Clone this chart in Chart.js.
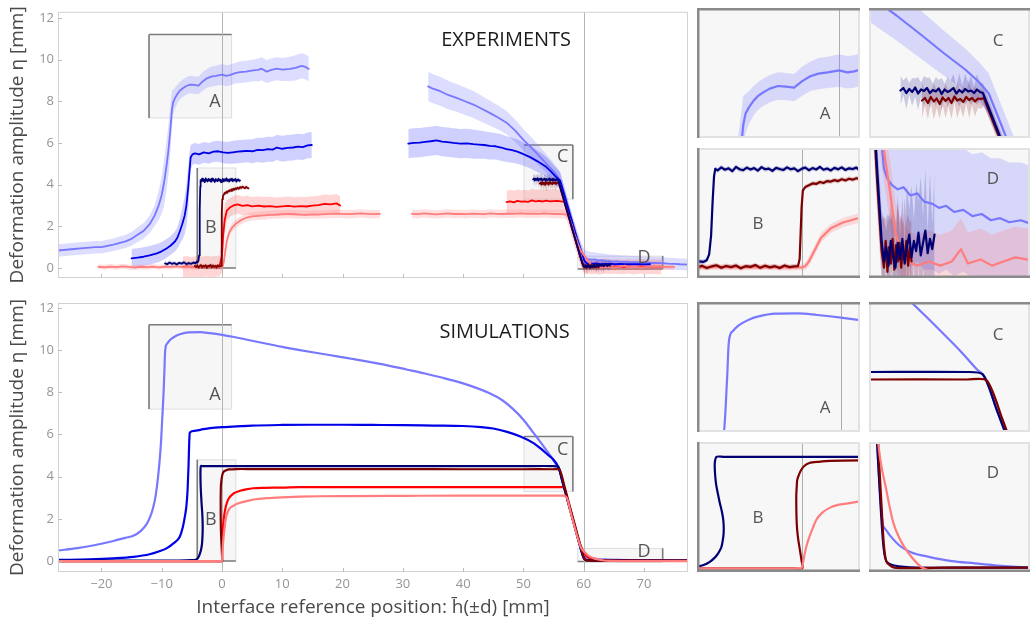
<!DOCTYPE html>
<html><head><meta charset="utf-8">
<script src="https://cdn.jsdelivr.net/npm/chart.js@4.4.1/dist/chart.umd.min.js"></script>
<style>
html,body{margin:0;padding:0;background:#fff;width:1030px;height:621px;overflow:hidden;position:relative}
canvas{position:absolute}
</style></head><body>
<script>
const FONT = '"Open Sans", "DejaVu Sans", sans-serif';

// ---------------- tick values ----------------
const xTickValues = [-20,-10,0,10,20,30,40,50,60,70];
const yTickValues = [0,2,4,6,8,10,12];

// ---------------- EXPERIMENTS (x in mm, y in mm, e = band half-width) ----------------
const expLB1X = [-27.2,-25,-23,-21,-20,-18,-16,-15,-14,-13,-12,-11.2,-10.5,-10,-9.6,-9.2,-8.9,-8.6,-8.3,-8.1,-7.8,-7.4,-7,-6.5,-6,-5.3,-4.6,-3.9,-3.2,-2.5,-1.8,-1,0,0.7,1.3,2.2,3,4,5.2,6,6.6,7.4,8.2,9.1,10,11.3,12.2,13.2,13.8,14.4];
const expLB1Y = [0.84,0.9,0.95,1.0,1.0,1.12,1.28,1.4,1.6,1.78,2.1,2.5,3.0,3.5,4.1,4.9,5.6,6.5,7.6,7.95,8.15,8.35,8.5,8.62,8.72,8.8,8.78,8.75,8.95,9.1,9.18,9.22,9.28,9.22,9.25,9.35,9.4,9.42,9.48,9.5,9.56,9.42,9.5,9.56,9.52,9.55,9.6,9.7,9.65,9.55];
const expLB1E = [0.3,0.3,0.3,0.3,0.3,0.3,0.32,0.33,0.35,0.38,0.42,0.5,0.7,0.9,1.1,1.2,1.2,1.1,0.9,0.6,0.5,0.45,0.42,0.42,0.42,0.42,0.42,0.42,0.45,0.45,0.48,0.48,0.5,0.5,0.5,0.5,0.52,0.52,0.52,0.55,0.55,0.55,0.55,0.55,0.55,0.58,0.6,0.6,0.6,0.6];
const expLB2X = [34.2,35,36.2,37.5,38.9,40.3,41.7,43,44.4,45.8,47.2,48.6,50,51.4,52.7,53.8,54.9,55.6,56.1,56.8,57.5,58.2,58.9,59.6,60.1,60.4,60.8,61.3,61.8,62.4,63,63.6,64.3,64.9,65.5,66.2,67,67.8,68.6,69.4,70.2,71,72,73,74,75,76,77.5];
const expLB2Y = [8.71,8.6,8.48,8.3,8.16,8.0,7.84,7.65,7.44,7.22,6.97,6.6,6.15,5.75,5.35,5.0,4.67,4.42,4.19,3.5,2.8,2.1,1.4,0.8,0.5,0.45,0.42,0.4,0.41,0.37,0.38,0.34,0.33,0.31,0.32,0.29,0.3,0.27,0.28,0.25,0.26,0.24,0.25,0.23,0.21,0.2,0.18,0.16];
const expLB2E = [0.7,0.7,0.7,0.68,0.67,0.66,0.65,0.63,0.6,0.58,0.56,0.54,0.52,0.5,0.48,0.45,0.42,0.4,0.4,0.4,0.4,0.4,0.4,0.4,0.4,0.4,0.38,0.36,0.35,0.35,0.33,0.33,0.32,0.32,0.31,0.31,0.3,0.3,0.3,0.3,0.29,0.29,0.28,0.28,0.28,0.28,0.28,0.28];

const expB1X = [-15,-14,-13,-12,-10.8,-10,-9.2,-8.5,-7.8,-7.4,-7,-6.6,-6.2,-5.9,-5.6,-5.4,-5.2,-4.9,-4.5,-3.8,-3,-2.2,-1.4,-0.6,0.2,1,1.8,2.6,3.4,4.1,5,5.8,6.8,7.6,8.4,9.1,10,10.9,11.8,12.6,13.4,14.2,14.9];
const expB1Y = [0.46,0.5,0.54,0.6,0.7,0.8,0.94,1.08,1.27,1.45,1.75,2.1,2.5,3.0,3.87,4.6,5.3,5.45,5.5,5.45,5.55,5.5,5.58,5.6,5.55,5.52,5.55,5.58,5.6,5.62,5.6,5.66,5.65,5.7,5.68,5.78,5.72,5.76,5.78,5.82,5.8,5.88,5.9];
const expB1E = [0.45,0.45,0.45,0.45,0.45,0.45,0.45,0.45,0.48,0.5,0.6,0.75,0.9,1.0,1.0,0.9,0.6,0.5,0.5,0.5,0.5,0.5,0.5,0.5,0.52,0.52,0.55,0.55,0.55,0.55,0.58,0.58,0.6,0.6,0.6,0.6,0.62,0.62,0.62,0.62,0.62,0.62,0.62];
const expB2X = [30.9,31.8,32.8,33.7,34.6,35.6,36.5,37.4,38.4,39.5,40.6,41.7,42.6,43.5,44.4,45.4,46.3,47.2,48.1,49,50,51.1,52.2,53,53.8,54.5,55.2,55.7,56.1,56.8,57.5,58.2,58.9,59.6,60.1,60.5,61.2,62,62.8,63.6,64.4,65.2,66,67,68,69,70,71];
const expB2Y = [5.97,6.0,6.01,6.05,6.08,6.12,6.06,6.04,6.0,5.97,5.98,5.94,5.92,5.9,5.86,5.84,5.78,5.7,5.65,5.58,5.46,5.32,5.14,5.0,4.84,4.65,4.43,4.3,4.19,3.5,2.8,2.1,1.4,0.8,0.35,0.22,0.2,0.22,0.19,0.2,0.21,0.18,0.2,0.19,0.18,0.19,0.17,0.18];
const expB2E = [0.7,0.7,0.7,0.7,0.7,0.7,0.7,0.7,0.7,0.7,0.7,0.7,0.68,0.66,0.65,0.64,0.63,0.62,0.6,0.58,0.56,0.54,0.52,0.5,0.48,0.46,0.44,0.42,0.4,0.35,0.3,0.3,0.3,0.3,0.25,0.18,0.15,0.15,0.15,0.15,0.15,0.15,0.15,0.15,0.15,0.15,0.15,0.15];

const expNV1X = [-9.45,-9.1,-8.7,-8.3,-7.9,-7.5,-7.1,-6.7,-6.3,-5.9,-5.5,-5.1,-4.7,-4.4,-4.2,-4.05,-3.9,-3.8,-3.72,-3.66,-3.6,-3.55,-3.45,-3.3,-3.15,-3.0,-2.85,-2.7,-2.55,-2.4,-2.25,-2.1,-1.95,-1.8,-1.65,-1.5,-1.35,-1.2,-1.05,-0.9,-0.75,-0.6,-0.45,-0.3,-0.15,0,0.15,0.3,0.45,0.6,0.75,0.9,1.05,1.2,1.35,1.5,1.65,1.8,1.95,2.1,2.25,2.4,2.55,2.7,2.85,3.0];
const expNV1Y = [0.22,0.18,0.26,0.2,0.24,0.17,0.25,0.21,0.27,0.19,0.23,0.2,0.26,0.22,0.3,0.28,0.35,0.6,1.4,2.8,3.9,4.22,4.15,4.28,4.18,4.24,4.12,4.3,4.2,4.16,4.27,4.19,4.25,4.14,4.29,4.2,4.23,4.13,4.26,4.21,4.17,4.28,4.2,4.24,4.12,4.22,4.27,4.16,4.25,4.19,4.3,4.18,4.23,4.15,4.26,4.2,4.28,4.17,4.24,4.21,4.27,4.14,4.22,4.25,4.18,4.2];
const expNV1E = 0.1;
const expNV2X = [51.6,51.75,51.9,52.05,52.2,52.35,52.5,52.65,52.8,52.95,53.1,53.25,53.4,53.55,53.7,53.85,54,54.15,54.3,54.45,54.6,54.75,54.9,55.05,55.2,55.35,55.5,55.65,55.8,56.5,57.3,58.1,58.9,59.5,59.9,60.1,60.3,60.5,60.7,60.9,61.1,61.3,61.5,61.7,61.9,62.1,62.3,62.5,62.7,62.9,63.1,63.3,63.5,63.7,63.9,64.1,64.3,64.5];
const expNV2Y = [4.25,4.3,4.2,4.28,4.22,4.31,4.19,4.27,4.24,4.3,4.2,4.26,4.23,4.29,4.18,4.27,4.22,4.25,4.3,4.19,4.26,4.21,4.28,4.23,4.25,4.2,4.27,4.22,4.2,3.5,2.7,1.9,1.1,0.5,0.15,0.05,0.12,0.03,0.15,0.08,0.02,0.14,0.06,0.16,0.04,0.12,0.18,0.07,0.15,0.1,0.19,0.08,0.14,0.2,0.09,0.16,0.11,0.18];
const expNV2E = [0.3,0.15,0.32,0.12,0.28,0.18,0.33,0.14,0.3,0.2,0.31,0.13,0.29,0.17,0.32,0.12,0.3,0.19,0.28,0.15,0.33,0.14,0.3,0.18,0.29,0.13,0.31,0.16,0.2,0.15,0.15,0.15,0.15,0.15,0.15,0.2,0.08,0.25,0.1,0.22,0.06,0.24,0.1,0.2,0.08,0.3,0.12,0.35,0.1,0.33,0.15,0.38,0.12,0.3,0.1,0.32,0.12,0.3];

const expDR1X = [-4.5,-4.3,-4.1,-3.9,-3.7,-3.5,-3.3,-3.1,-2.9,-2.7,-2.5,-2.3,-2.1,-1.9,-1.7,-1.5,-1.3,-1.1,-0.9,-0.7,-0.5,-0.3,-0.15,-0.08,-0.04,0,0.05,0.15,0.3,0.45,0.6,0.75,0.9,1.05,1.2,1.35,1.5,1.65,1.8,1.95,2.1,2.25,2.4,2.6,2.8,3.0,3.2,3.4,3.6,3.8,4.0,4.2,4.4];
const expDR1Y = [0.1,0.04,0.12,0.02,0.09,0.14,0.03,0.11,0.06,0.13,0.01,0.1,0.07,0.15,0.03,0.12,0.05,0.1,0.02,0.13,0.06,0.09,0.1,0.4,1.5,2.6,3.3,3.45,3.52,3.6,3.58,3.66,3.62,3.7,3.68,3.74,3.7,3.78,3.73,3.8,3.76,3.82,3.79,3.85,3.8,3.88,3.84,3.9,3.86,3.83,3.89,3.85,3.82];
const expDR1E = 0.1;
const expDR2X = [52.7,52.85,53,53.15,53.3,53.45,53.6,53.75,53.9,54.05,54.2,54.35,54.5,54.65,54.8,54.95,55.1,55.25,55.4,55.55,55.7,55.85,56.5,57.3,58.1,58.9,59.5,59.9,60.1,60.25,60.4,60.55,60.7,60.85,61,61.15,61.3,61.45,61.6,61.75,61.9,62.05,62.2,62.35,62.5];
const expDR2Y = [4.05,4.1,4.0,4.12,4.03,4.09,3.98,4.11,4.04,4.1,4.0,4.13,4.05,4.08,4.02,4.12,4.06,4.1,4.03,4.09,4.08,4.1,3.45,2.65,1.85,1.05,0.45,0.1,0.02,0.15,0.0,0.12,0.04,0.16,0.01,0.13,0.05,0.14,0.02,0.11,0.06,0.15,0.03,0.12,0.05];
const expDR2E = [0.35,0.15,0.33,0.12,0.36,0.18,0.3,0.14,0.34,0.16,0.32,0.12,0.35,0.17,0.31,0.13,0.36,0.15,0.3,0.18,0.2,0.15,0.15,0.15,0.15,0.15,0.15,0.15,0.25,0.1,0.28,0.12,0.3,0.08,0.27,0.11,0.29,0.1,0.26,0.12,0.3,0.09,0.25,0.12,0.2];

const expR1X = [-6.5,-5.8,-5,-4.2,-3.4,-2.6,-1.8,-1,-0.4,0,0.2,0.45,0.8,1.3,1.9,2.6,3.4,4.2,5,6,7,8,9,10,11,12,13,14,15,16,17,18,19,19.6];
const expR1Y = [0.05,0.08,0.03,0.07,0.04,0.09,0.05,0.08,0.1,0.6,1.6,2.3,2.75,2.9,3.0,3.05,2.98,3.02,2.96,2.99,2.95,2.97,2.93,2.96,2.98,2.94,2.97,2.95,2.99,3.02,3.08,3.05,3.1,3.0];
const expR1E = [0.5,0.5,0.5,0.5,0.5,0.5,0.5,0.5,0.5,0.8,0.9,0.7,0.5,0.45,0.45,0.45,0.45,0.45,0.45,0.45,0.45,0.45,0.45,0.45,0.45,0.45,0.45,0.45,0.45,0.45,0.45,0.45,0.45,0.45];
const expR2X = [47.2,47.8,48.4,49,49.6,50.2,50.8,51.4,52,52.6,53.2,53.8,54.4,55,55.6,56.2,56.8,57.4,58.1,58.8,59.5,59.9,60.3,60.8,61.3,61.9,62.5,63.1,63.7,64.4,65,65.8,66.6,67.4,68.2,69,69.8,70.6,71.4,72.2,72.9];
const expR2Y = [3.16,3.2,3.15,3.22,3.18,3.2,3.17,3.24,3.2,3.22,3.19,3.23,3.2,3.21,3.22,3.2,3.18,2.6,1.9,1.2,0.5,0.15,0.05,0.08,0.04,0.07,0.03,0.06,0.09,0.05,0.07,0.06,0.05,0.08,0.04,0.06,0.07,0.05,0.06,0.05,0.06];
const expR2E = [0.55,0.55,0.55,0.55,0.55,0.55,0.55,0.55,0.55,0.55,0.55,0.55,0.55,0.55,0.55,0.55,0.55,0.5,0.5,0.45,0.4,0.35,0.35,0.35,0.35,0.35,0.35,0.35,0.35,0.35,0.35,0.35,0.35,0.35,0.35,0.35,0.35,0.35,0.35,0.35,0.35];

const expLR1X = [-20.5,-19.5,-18.5,-17.5,-16.5,-15.5,-14.5,-13.5,-12.5,-11.5,-10.5,-9.5,-8.5,-7.5,-6.5,-5.5,-4.5,-3.5,-2.5,-1.5,-0.5,0,0.15,0.3,0.5,0.8,1.2,1.7,2.4,3.2,4.1,5,6,7,8,9,10,11,12,13,14,15,16,17,18,19,20,21,22,23,24,25,26.2];
const expLR1Y = [0.06,0.03,0.07,0.04,0.08,0.05,0.02,0.06,0.04,0.07,0.03,0.06,0.05,0.08,0.04,0.06,0.03,0.07,0.05,0.06,0.04,0.05,0.1,0.3,0.7,1.3,1.7,1.95,2.15,2.3,2.42,2.48,2.5,2.52,2.55,2.56,2.58,2.6,2.58,2.56,2.55,2.57,2.56,2.58,2.6,2.61,2.6,2.58,2.6,2.62,2.6,2.58,2.6];
const expLR1E = [0.12,0.12,0.12,0.12,0.12,0.12,0.12,0.12,0.12,0.12,0.12,0.12,0.12,0.12,0.12,0.12,0.12,0.12,0.12,0.12,0.12,0.12,0.15,0.2,0.2,0.2,0.2,0.2,0.2,0.2,0.2,0.2,0.2,0.2,0.2,0.2,0.2,0.2,0.2,0.2,0.2,0.2,0.2,0.2,0.2,0.2,0.2,0.2,0.2,0.2,0.2,0.2,0.2];
const expLR2X = [31.5,32.5,33.5,34.5,35.5,36.5,37.5,38.5,39.5,40.5,41.5,42.5,43.5,44.5,45.5,46.5,47.5,48.5,49.5,50.5,51.5,52.5,53.5,54.5,55.5,56.5,57.4,58,58.5,59,59.4,59.8,60.2,60.6,61.1,61.6,62.3,63,64,65,66,66.8,67.4,68.5,69.5,70.5,71.5,72.5,73.5,75];
const expLR2Y = [2.6,2.58,2.62,2.6,2.57,2.6,2.62,2.59,2.6,2.58,2.61,2.6,2.58,2.62,2.6,2.59,2.61,2.6,2.62,2.6,2.61,2.6,2.62,2.6,2.59,2.58,2.55,2.1,1.6,1.2,0.9,0.7,0.55,0.4,0.19,0.1,0.045,0.03,0.05,0.03,0.05,0.11,0.04,0.06,0.03,0.05,0.07,0.06,0.05,0.05];
const expLR2E = [0.2,0.2,0.2,0.2,0.2,0.2,0.2,0.2,0.2,0.2,0.2,0.2,0.2,0.2,0.2,0.2,0.2,0.2,0.2,0.2,0.2,0.2,0.2,0.2,0.2,0.2,0.2,0.2,0.2,0.2,0.15,0.15,0.15,0.15,0.15,0.15,0.15,0.15,0.15,0.15,0.15,0.15,0.15,0.15,0.15,0.15,0.15,0.15,0.15,0.15];

// ---------------- SIMULATIONS ----------------
const simLBX = [-27.2,-24,-21,-18,-16,-14.7,-13.5,-12.5,-11.9,-11.4,-11,-10.6,-10.3,-10.1,-9.9,-9.7,-9.55,-9.45,-9.3,-9.1,-8.7,-8.3,-7.6,-7,-5.5,-3.6,-2,0,1.8,4,7.4,10,12.9,16,19.6,21.2,25.1,28,30.6,33.5,36.1,40,44.4,46.5,48.3,50,51.6,52.8,53.8,54.7,55.5,55.9,56.5,57.5,58.5,59.5,60,60.2,60.6,61.5,62.5,64,66,68,70,73,77.5];
const simLBY = [0.5,0.61,0.76,0.95,1.1,1.2,1.42,1.75,2.1,2.55,3.1,4.0,4.9,5.7,6.8,7.9,9.0,9.85,10.2,10.3,10.45,10.55,10.68,10.75,10.84,10.85,10.8,10.72,10.63,10.5,10.3,10.15,10.0,9.85,9.68,9.6,9.4,9.24,9.08,8.9,8.72,8.42,7.95,7.62,7.2,6.7,6.1,5.65,5.26,4.9,4.55,4.4,3.75,2.7,1.65,0.6,0.22,0.2,0.17,0.12,0.09,0.07,0.05,0.04,0.03,0.02,0.01];
const simBX = [-27.2,-22,-18,-14.7,-12,-10.5,-9.2,-8,-7,-6.5,-6.1,-5.9,-5.7,-5.55,-5.45,-5.35,-5,-3.6,-2,0,1.8,5,10,15,20,25,30,35,40,43,45,47.3,49.5,51.6,53,54,55,55.8,56.5,57.5,58.5,59.5,60,60.5,62,66,77.5];
const simBY = [0.05,0.08,0.13,0.2,0.32,0.45,0.6,0.85,1.15,1.6,2.2,2.6,3.4,4.5,5.5,6.07,6.15,6.22,6.3,6.35,6.37,6.42,6.45,6.46,6.46,6.45,6.44,6.42,6.4,6.35,6.28,6.12,5.9,5.6,5.3,5.05,4.8,4.45,3.75,2.7,1.65,0.6,0.15,0.06,0.04,0.03,0.02];
const simNVX = [-27.2,-15,-8,-6,-5,-4.6,-4.3,-4.0,-3.76,-3.55,-3.43,-3.3,-3.22,-3.2,-3.22,-3.28,-3.36,-3.45,-3.52,-3.56,-3.57,-3.5,-3.22,-2,0,5,10,20,30,40,50,55,55.8,56.5,57.5,58.5,59.5,60,60.3,61,63,66,70,77.5];
const simNVY = [0.02,0.02,0.02,0.03,0.04,0.05,0.07,0.14,0.27,0.45,0.6,0.85,1.27,1.6,1.95,2.3,2.63,3.05,3.43,3.85,4.24,4.5,4.5,4.5,4.5,4.5,4.5,4.5,4.5,4.5,4.5,4.5,4.45,3.75,2.7,1.65,0.6,0.15,0.05,0.03,0.02,0.02,0.02,0.02];
const simDRX = [-27.2,-10,-4,-1,-0.3,0.03,0.0,-0.07,-0.15,-0.2,-0.22,-0.2,-0.18,-0.1,-0.02,0.12,0.32,0.7,1.17,2.4,5,10,20,30,40,50,55,56,56.8,57.5,58.5,59.5,60,60.3,61,65,70,77.5];
const simDRY = [0,0,0,0,0,0,0.3,0.74,1.25,1.8,2.9,3.3,3.57,3.8,3.97,4.14,4.25,4.3,4.34,4.36,4.36,4.36,4.36,4.36,4.35,4.35,4.35,4.33,3.55,2.8,1.75,0.7,0.2,0.05,0.02,0.02,0.02,0.02];
const simRX = [-27.2,-10,-2,0,0.05,0.15,0.3,0.5,0.8,1.2,1.9,3,4,5.2,7,10,12.9,20,30,40,50,56.6,57.5,58.5,59.2,59.7,60.2,60.7,61.5,63,66,77.5];
const simRY = [0,0,0,0,0.8,1.5,2.0,2.4,2.75,3.0,3.2,3.33,3.4,3.45,3.47,3.48,3.5,3.5,3.5,3.5,3.5,3.5,2.7,1.65,0.95,0.6,0.35,0.18,0.07,0.03,0.02,0.01];
const simLRX = [-27.2,-10,-2,0,0.05,0.12,0.2,0.32,0.45,0.6,0.85,1.17,1.5,1.9,2.4,3,4.1,5.5,7.4,10,12.9,16,21.2,30,40,50,56.6,57.2,57.8,58.5,59.1,59.6,60.3,60.9,61.5,62.2,63.3,64.3,66,77.5];
const simLRY = [0,0,0,0,0.2,0.55,0.9,1.27,1.6,1.95,2.25,2.45,2.56,2.62,2.7,2.76,2.84,2.93,2.98,3.02,3.05,3.07,3.08,3.09,3.1,3.1,3.1,3.0,2.35,1.6,1.0,0.6,0.38,0.23,0.15,0.09,0.025,0.005,0,0];

// ---------------- styles ----------------
const STY = {
  LB:{line:'rgb(120,120,255)', band:'rgba(125,125,255,0.26)'},
  B: {line:'rgb(0,0,232)',     band:'rgba(40,40,255,0.22)'},
  NV:{line:'rgb(0,0,115)',     band:'rgba(20,20,140,0.2)'},
  DR:{line:'rgb(125,0,0)',     band:'rgba(140,20,20,0.2)'},
  R: {line:'rgb(255,0,0)',     band:'rgba(255,70,70,0.22)'},
  LR:{line:'rgb(255,125,125)', band:'rgba(255,130,130,0.26)'}
};

const expSeries = [
  {k:'LB', x:expLB1X, y:expLB1Y, e:expLB1E, z:1}, {k:'LB', x:expLB2X, y:expLB2Y, e:expLB2E, z:1},
  {k:'B',  x:expB1X,  y:expB1Y,  e:expB1E,  z:2}, {k:'B',  x:expB2X,  y:expB2Y,  e:expB2E,  z:2},
  {k:'R',  x:expR1X,  y:expR1Y,  e:expR1E,  z:3}, {k:'R',  x:expR2X,  y:expR2Y,  e:expR2E,  z:3},
  {k:'LR', x:expLR1X, y:expLR1Y, e:expLR1E, z:4}, {k:'LR', x:expLR2X, y:expLR2Y, e:expLR2E, z:4},
  {k:'DR', x:expDR1X, y:expDR1Y, e:expDR1E, z:5}, {k:'DR', x:expDR2X, y:expDR2Y, e:expDR2E, z:5},
  {k:'NV', x:expNV1X, y:expNV1Y, e:expNV1E, z:6}, {k:'NV', x:expNV2X, y:expNV2Y, e:expNV2E, z:6}
];
const simSeries = [
  {k:'LB', x:simLBX, y:simLBY, z:1, m:true},
  {k:'B',  x:simBX,  y:simBY,  z:2, m:true},
  {k:'R',  x:simRX,  y:simRY,  z:3, m:true},
  {k:'NV', x:simNVX, y:simNVY, z:4, t:0.25},
  {k:'DR', x:simDRX, y:simDRY, z:5, t:0.25},
  {k:'LR', x:simLRX, y:simLRY, z:6, m:true}
];
const insetKeys = ['LB','NV','DR','LR'];

// ---------------- builders ----------------
function P(xs, ys, off, sign){
  return xs.map((x,i)=>({x:x, y: ys[i] + (off==null ? 0 : sign*(Array.isArray(off)?off[i]:off))}));
}
function buildDatasets(series, lw){
  const out = [];
  series.forEach(s=>{
    if (s.e != null){
      const lo = out.length + 1;
      out.push({data:P(s.x,s.y,s.e,1), borderWidth:0, pointRadius:0, backgroundColor:STY[s.k].band, fill:lo, order:1000-s.z, tension:0});
      out.push({data:P(s.x,s.y,s.e,-1), borderWidth:0, pointRadius:0, fill:false, order:1000-s.z, tension:0});
    }
  });
  series.forEach(s=>{
    out.push({data:P(s.x,s.y), borderColor:STY[s.k].line, borderWidth:lw, pointRadius:0, fill:false,
      order:100-s.z, tension:s.t||0, cubicInterpolationMode:s.m?'monotone':'default',
      borderJoinStyle:'round', borderCapStyle:'round'});
  });
  return out;
}
function mk(l,t,w,h){
  const c = document.createElement('canvas');
  c.width = w; c.height = h;
  c.style.left = l+'px'; c.style.top = t+'px'; c.style.width = w+'px'; c.style.height = h+'px';
  document.body.appendChild(c);
  return c;
}
const minus = v => (v < 0 ? '\u2212' + Math.abs(v) : String(v));

// ---------------- plugins ----------------
const mainDeco = {
  id:'deco',
  beforeDatasetsDraw(c, a, o){
    const {ctx, chartArea:ar, scales:{x,y}} = c;
    ctx.save();
    ctx.beginPath(); ctx.rect(ar.left, ar.top, ar.right-ar.left, ar.bottom-ar.top); ctx.clip();
    o.boxes.forEach(b=>{
      const l = x.getPixelForValue(b.x0), r = x.getPixelForValue(b.x1);
      const t = y.getPixelForValue(b.y1), bt = y.getPixelForValue(b.y0);
      ctx.fillStyle = 'rgba(0,0,0,0.035)'; ctx.fillRect(l, t, r-l, bt-t);
      ctx.strokeStyle = 'rgba(0,0,0,0.12)'; ctx.lineWidth = 1; ctx.strokeRect(l, t, r-l, bt-t);
      ctx.strokeStyle = '#7c7c7c'; ctx.lineWidth = 1.6; ctx.beginPath();
      if (b.dark.includes('L')) { ctx.moveTo(l,t); ctx.lineTo(l,bt); }
      if (b.dark.includes('T')) { ctx.moveTo(l,t); ctx.lineTo(r,t); }
      if (b.dark.includes('R')) { ctx.moveTo(r,t); ctx.lineTo(r,bt); }
      if (b.dark.includes('B')) { ctx.moveTo(l,bt); ctx.lineTo(r,bt); }
      ctx.stroke();
    });
    o.vlines.forEach(v=>{
      const px = Math.round(x.getPixelForValue(v)) + 0.5;
      ctx.strokeStyle = '#b4b4b4'; ctx.lineWidth = 1;
      ctx.beginPath(); ctx.moveTo(px, ar.top); ctx.lineTo(px, ar.bottom); ctx.stroke();
    });
    ctx.restore();
  },
  afterDatasetsDraw(c, a, o){
    const {ctx, scales:{x,y}} = c;
    ctx.save();
    ctx.textBaseline = 'alphabetic'; ctx.textAlign = 'center';
    ctx.fillStyle = '#555'; ctx.font = '18px ' + FONT;
    o.labels.forEach(L=>ctx.fillText(L.t, x.getPixelForValue(L.x), y.getPixelForValue(L.y)));
    ctx.textAlign = 'right'; ctx.fillStyle = '#1c1c1c'; ctx.font = '20px ' + FONT;
    ctx.fillText(o.title.t, x.getPixelForValue(o.title.x), y.getPixelForValue(o.title.y));
    ctx.restore();
  },
  afterDraw(c, a, o){
    const {ctx, chartArea:ar, scales:{x,y}} = c;
    ctx.save();
    ctx.strokeStyle = '#d2d2d2'; ctx.lineWidth = 1;
    ctx.strokeRect(ar.left+0.5, ar.top+0.5, ar.right-ar.left-1, ar.bottom-ar.top-1);
    ctx.strokeStyle = '#bdbdbd'; ctx.beginPath();
    xTickValues.forEach(v=>{ const px = Math.round(x.getPixelForValue(v))+0.5; ctx.moveTo(px, ar.bottom); ctx.lineTo(px, ar.bottom-4); });
    yTickValues.forEach(v=>{ const py = Math.round(y.getPixelForValue(v))+0.5; ctx.moveTo(ar.left, py); ctx.lineTo(ar.left+4, py); });
    ctx.stroke();
    ctx.restore();
  }
};

const insetDeco = {
  id:'ideco',
  beforeDraw(c, a, o){
    const {ctx, chartArea:ar} = c;
    ctx.save(); ctx.fillStyle = '#f7f7f7';
    ctx.fillRect(ar.left, ar.top, ar.right-ar.left, ar.bottom-ar.top); ctx.restore();
  },
  beforeDatasetsDraw(c, a, o){
    if (!o.v0) return;
    const {ctx, chartArea:ar, scales:{x}} = c;
    const px = Math.round(x.getPixelForValue(0)) + 0.5;
    ctx.save(); ctx.strokeStyle = '#adadad'; ctx.lineWidth = 1;
    ctx.beginPath(); ctx.moveTo(px, ar.top); ctx.lineTo(px, ar.bottom); ctx.stroke(); ctx.restore();
  },
  afterDraw(c, a, o){
    const {ctx} = c; const w = c.width, h = c.height;
    ctx.save();
    ctx.strokeStyle = '#e2e2e2'; ctx.lineWidth = 2; ctx.strokeRect(1, 1, w-2, h-2);
    ctx.strokeStyle = '#8a8a8a'; ctx.lineWidth = 2.5; ctx.beginPath();
    if (o.dark.includes('L')) { ctx.moveTo(1.25,0); ctx.lineTo(1.25,h); }
    if (o.dark.includes('T')) { ctx.moveTo(0,1.25); ctx.lineTo(w,1.25); }
    if (o.dark.includes('B')) { ctx.moveTo(0,h-1.25); ctx.lineTo(w,h-1.25); }
    ctx.stroke();
    ctx.fillStyle = '#555'; ctx.font = '17px ' + FONT; ctx.textAlign = 'center'; ctx.textBaseline = 'alphabetic';
    ctx.fillText(o.letter, o.lx, o.ly);
    ctx.restore();
  }
};

// ---------------- charts ----------------
function mainChart(canvas, series, lw, yMin, yMax, isSim, deco){
  return new Chart(canvas, {
    type:'line',
    data:{datasets:buildDatasets(series, lw)},
    options:{
      responsive:false, animation:false, events:[], devicePixelRatio:1,
      layout:{padding:{top:isSim?13:10, right:2, left:0, bottom:0}},
      plugins:{legend:{display:false}, tooltip:{enabled:false}, deco:deco},
      scales:{
        x:{type:'linear', min:-27.2, max:77.3, grid:{display:false, drawTicks:false}, border:{display:false},
           ticks:{display:isSim, stepSize:10, includeBounds:false, padding:4, color:'#959595', font:{family:FONT, size:13}, callback:minus, maxRotation:0},
           title:{display:isSim, text:'Interface reference position: h\u0304(\u00b1d) [mm]', color:'#4a4a4a', font:{family:FONT, size:19}, padding:{top:0, bottom:2}},
           afterFit:s=>{ s.height = isSim ? 49 : 12; }},
        y:{type:'linear', min:yMin, max:yMax, grid:{display:false, drawTicks:false}, border:{display:false},
           ticks:{stepSize:2, includeBounds:false, padding:4, color:'#959595', font:{family:FONT, size:13}},
           title:{display:true, text:'Deformation amplitude \u03b7 [mm]', color:'#4a4a4a', font:{family:FONT, size:19}, padding:{top:6, bottom:0}},
           afterFit:s=>{ s.width = 58; }}
      }
    },
    plugins:[mainDeco]
  });
}
function insetChart(canvas, series, r){
  return new Chart(canvas, {
    type:'line',
    data:{datasets:buildDatasets(series.filter(s=>insetKeys.includes(s.k)), 2.2)},
    options:{
      responsive:false, animation:false, events:[], devicePixelRatio:1,
      layout:{padding:0},
      plugins:{legend:{display:false}, tooltip:{enabled:false}, ideco:r},
      scales:{
        x:{type:'linear', display:false, min:r.x[0], max:r.x[1]},
        y:{type:'linear', display:false, min:r.y[0], max:r.y[1]}
      }
    },
    plugins:[insetDeco]
  });
}

mainChart(mk(0,0,690,290), expSeries, 1.8, -0.48, 12.29, false, {
  boxes:[{x0:-12.1,x1:1.6,y0:7.2,y1:11.2,dark:'LT'},{x0:-4.1,x1:2.3,y0:0,y1:4.8,dark:'LB'},
         {x0:50.1,x1:58.2,y0:3.3,y1:5.9,dark:'TR'},{x0:59,x1:73.1,y0:-0.05,y1:0.57,dark:'RB'}],
  vlines:[0,60],
  labels:[{t:'A',x:-1.16,y:7.71},{t:'B',x:-1.87,y:1.68},{t:'C',x:56.5,y:5.1},{t:'D',x:70,y:0.22}],
  title:{t:'EXPERIMENTS', x:57.9, y:10.65}
});
mainChart(mk(0,290,690,331), simSeries, 2.2, -0.52, 12.23, true, {
  boxes:[{x0:-12.1,x1:1.6,y0:7.2,y1:11.2,dark:'LT'},{x0:-4.1,x1:2.3,y0:0,y1:4.8,dark:'LB'},
         {x0:50.1,x1:58.2,y0:3.3,y1:5.9,dark:'TR'},{x0:59,x1:73.1,y0:-0.02,y1:0.6,dark:'RB'}],
  vlines:[0,60],
  labels:[{t:'A',x:-1.16,y:7.63},{t:'B',x:-1.87,y:1.7},{t:'C',x:56.5,y:5.02},{t:'D',x:70,y:0.2}],
  title:{t:'SIMULATIONS', x:57.7, y:10.58}
});

insetChart(mk(697,8,163,130),   expSeries, {x:[-12.3,1.8], y:[7.2,11.2],  dark:'LT', v0:true,  letter:'A', lx:128, ly:111});
insetChart(mk(869,8,161,130),   expSeries, {x:[50,58.2],   y:[3.3,5.9],   dark:'T',  v0:false, letter:'C', lx:129, ly:38});
insetChart(mk(697,148,163,130), expSeries, {x:[-4.3,2.4],  y:[-0.4,5.1],  dark:'LB', v0:true,  letter:'B', lx:61,  ly:81});
insetChart(mk(869,148,161,130), expSeries, {x:[58.8,72.8], y:[-0.03,0.6], dark:'B',  v0:false, letter:'D', lx:124, ly:36});
insetChart(mk(697,302,163,130), simSeries, {x:[-12.1,1.6], y:[7.2,11.2],  dark:'LT', v0:true,  letter:'A', lx:128, ly:111});
insetChart(mk(869,302,161,130), simSeries, {x:[50,58.2],   y:[3.3,5.9],   dark:'T',  v0:false, letter:'C', lx:129, ly:38});
insetChart(mk(697,442,163,130), simSeries, {x:[-4.3,2.4],  y:[-0.15,5.1], dark:'LB', v0:true,  letter:'B', lx:61,  ly:81});
insetChart(mk(869,442,161,130), simSeries, {x:[58.8,72.8], y:[0,0.6],     dark:'B',  v0:false, letter:'D', lx:124, ly:36});
</script>
</body></html>
